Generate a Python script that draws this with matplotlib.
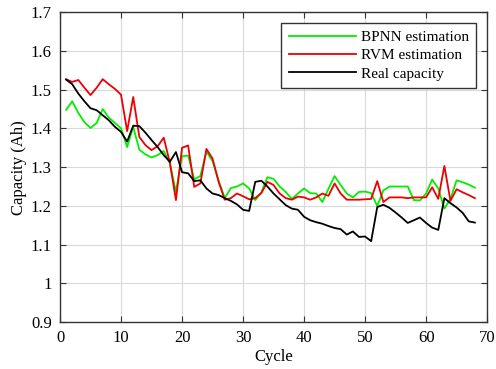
import numpy as np
import matplotlib
matplotlib.use('Agg')
import matplotlib.pyplot as plt

plt.rcParams['font.family'] = ['Liberation Serif', 'DejaVu Serif']

cycle = np.arange(1, 69)

real_capacity = [1.526, 1.514, 1.490, 1.470, 1.452, 1.447, 1.434, 1.421, 1.404, 1.391,
                 1.366, 1.407, 1.406, 1.389, 1.370, 1.352, 1.331, 1.314, 1.339, 1.287,
                 1.284, 1.264, 1.266, 1.245, 1.232, 1.228, 1.220, 1.213, 1.204, 1.190,
                 1.187, 1.262, 1.265, 1.250, 1.232, 1.217, 1.202, 1.193, 1.190, 1.172,
                 1.163, 1.158, 1.154, 1.148, 1.143, 1.140, 1.126, 1.134, 1.120, 1.121,
                 1.109, 1.197, 1.203, 1.195, 1.183, 1.170, 1.156, 1.163, 1.170, 1.156,
                 1.144, 1.138, 1.220, 1.207, 1.196, 1.182, 1.160, 1.157]

bpnn = [1.448, 1.470, 1.440, 1.416, 1.401, 1.414, 1.450, 1.428, 1.414, 1.400,
        1.352, 1.404, 1.345, 1.333, 1.325, 1.331, 1.342, 1.310, 1.236, 1.328,
        1.330, 1.269, 1.277, 1.340, 1.316, 1.265, 1.220, 1.246, 1.250, 1.258,
        1.245, 1.215, 1.235, 1.274, 1.270, 1.250, 1.236, 1.218, 1.232, 1.245,
        1.233, 1.232, 1.210, 1.244, 1.277, 1.254, 1.232, 1.222, 1.236, 1.237,
        1.233, 1.200, 1.240, 1.250, 1.250, 1.250, 1.250, 1.215, 1.214, 1.232,
        1.268, 1.245, 1.193, 1.218, 1.266, 1.261, 1.255, 1.247]

rvm = [1.527, 1.520, 1.525, 1.505, 1.486, 1.505, 1.527, 1.514, 1.502, 1.487,
       1.393, 1.481, 1.378, 1.357, 1.344, 1.354, 1.376, 1.312, 1.215, 1.350,
       1.356, 1.249, 1.258, 1.347, 1.322, 1.262, 1.216, 1.220, 1.232, 1.225,
       1.217, 1.220, 1.233, 1.262, 1.254, 1.232, 1.220, 1.216, 1.224, 1.222,
       1.216, 1.222, 1.232, 1.226, 1.258, 1.232, 1.216, 1.216, 1.216, 1.217,
       1.218, 1.264, 1.210, 1.222, 1.222, 1.222, 1.220, 1.222, 1.222, 1.222,
       1.248, 1.218, 1.303, 1.213, 1.243, 1.235, 1.228, 1.220]

fig = plt.figure(figsize=(4.96, 3.69), dpi=100)
ax = fig.add_axes([0.121, 0.127, 0.861, 0.840])

ax.plot(cycle, bpnn, color='#00ee00', lw=1.3, label='BPNN estimation')
ax.plot(cycle, rvm, color='#ee0000', lw=1.3, label='RVM estimation')
ax.plot(cycle, real_capacity, color='black', lw=1.3, label='Real capacity')

ax.set_xlim(0, 70)
ax.set_ylim(0.9, 1.7)
ax.set_xticks(np.arange(0, 71, 10))
ax.set_yticks(np.arange(0.9, 1.71, 0.1))
ax.set_yticklabels(['0.9', '1', '1.1', '1.2', '1.3', '1.4', '1.5', '1.6', '1.7'])
ax.grid(True, color='#d9d9d9', lw=0.8)
ax.tick_params(direction='in', top=True, right=True, labelsize=12, length=4, color='#333333')
ax.tick_params(axis='x', pad=6)
ax.tick_params(axis='y', pad=6)
for s in ax.spines.values():
    s.set_color('#333333')
    s.set_linewidth(1.0)

ax.set_xlabel('Cycle', fontsize=12, labelpad=2)
ax.set_ylabel('Capacity (Ah)', fontsize=12, labelpad=3)

leg = ax.legend(loc='upper right', fontsize=11, fancybox=False, edgecolor='#333333',
                handlelength=4.4, borderaxespad=0.7, labelspacing=0.3,
                borderpad=0.5, handletextpad=0.3, framealpha=1)
leg.get_frame().set_linewidth(1.0)

fig.savefig('out.png', dpi=100)
